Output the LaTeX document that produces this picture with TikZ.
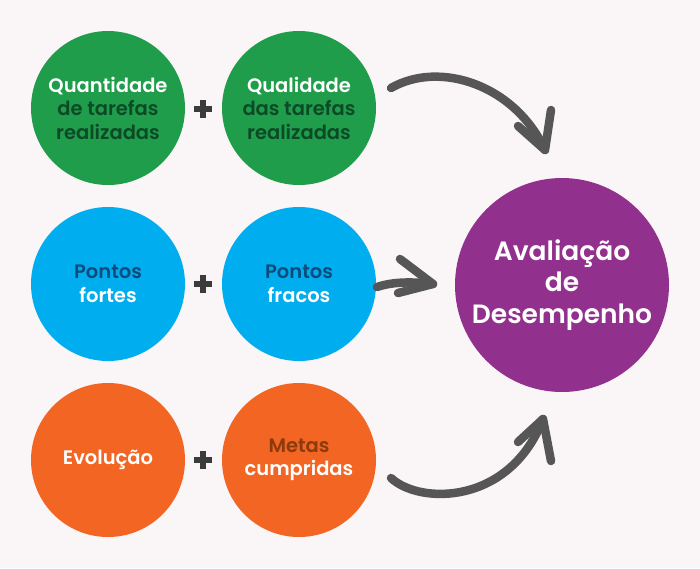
\documentclass[tikz,border=0pt]{standalone}
\usepackage{fontspec}
\setmainfont{Poppins}[UprightFont=* Medium, BoldFont=* SemiBold]
\definecolor{bg}{HTML}{FAF6F7}
\definecolor{cgreen}{HTML}{1F9D4B}
\definecolor{dkgreen}{HTML}{0C4A27}
\definecolor{cblue}{HTML}{00AEEF}
\definecolor{dkblue}{HTML}{0B4C7C}
\definecolor{corange}{HTML}{F26522}
\definecolor{dkbrown}{HTML}{8A3A0C}
\definecolor{cpurple}{HTML}{92308E}
\definecolor{plusgray}{HTML}{3B3B3B}
\definecolor{arrowgray}{HTML}{565656}
\tikzset{
  bubble/.style={circle, minimum size=154pt, inner sep=0pt, align=center, text=white,
    font=\fontsize{19.5}{23.5}\selectfont\bfseries},
  bigbubble/.style={circle, minimum size=214pt, inner sep=0pt, align=center, text=white,
    font=\fontsize{26.5}{31.5}\selectfont\bfseries},
  plusmark/.style={rectangle, minimum width=18pt, minimum height=17pt, inner sep=0pt},
  plusbar/.style={draw=plusgray, line width=5.5pt},
  brush/.style={draw=arrowgray, line width=8.5pt, line cap=round, line join=round},
}
\begin{document}
\begin{tikzpicture}[x=1pt,y=-1pt]
\fill[bg] (0,0) rectangle (700,568);
\useasboundingbox (0,0) rectangle (700,568);

% circles
\node[bubble, fill=cgreen] (g1) at (108,108) {Quantidade\\\textcolor{dkgreen}{de tarefas}\\\textcolor{dkgreen}{realizadas}};
\node[bubble, fill=cgreen] (g2) at (299,108) {Qualidade\\\textcolor{dkgreen}{das tarefas}\\\textcolor{dkgreen}{realizadas}};
\node[bubble, fill=cblue] (b1) at (108,284) {\textcolor{dkblue}{Pontos}\\fortes};
\node[bubble, fill=cblue] (b2) at (299,284) {\textcolor{dkblue}{Pontos}\\fracos};
\node[bubble, fill=corange] (o1) at (108,460) {\raisebox{-2pt}{Evolução}};
\node[bubble, fill=corange] (o2) at (299,460) {\textcolor{dkbrown}{Metas}\\cumpridas};
\node[bigbubble, fill=cpurple] (av) at (562,285) {Avaliação\\de\\Desempenho};

% plus signs
\foreach \n/\y in {p1/109, p2/284, p3/460} {
  \node[plusmark] (\n) at (203,\y) {};
  \draw[plusbar] (\n.west) -- (\n.east);
  \draw[plusbar] (\n.north) -- (\n.south);
}

% arrow coordinates
\coordinate (a1s) at (391,88);
\coordinate (a1t) at (545,150);
\coordinate (a1l) at (518,126);
\coordinate (a1r) at (551,110);
\coordinate (a2s) at (377,287);
\coordinate (a2t) at (433,284);
\coordinate (a2u) at (400,259);
\coordinate (a2d) at (398,293);
\coordinate (a3s) at (391,478);
\coordinate (a3t) at (543,419);
\coordinate (a3l) at (518,442);
\coordinate (a3r) at (551,461);

% arrows
\draw[brush] (a1s) .. controls (440,60) and (515,85) .. (a1t);
\draw[brush] (a1l) -- (a1t) -- (a1r);
\draw[brush] (a2s) .. controls (395,281) and (415,282) .. (a2t);
\draw[brush] (a2u) -- (a2t) -- (a2d);
\draw[brush] (a3s) .. controls (420,505) and (510,505) .. (a3t);
\draw[brush] (a3l) -- (a3t) -- (a3r);
\end{tikzpicture}
\end{document}
